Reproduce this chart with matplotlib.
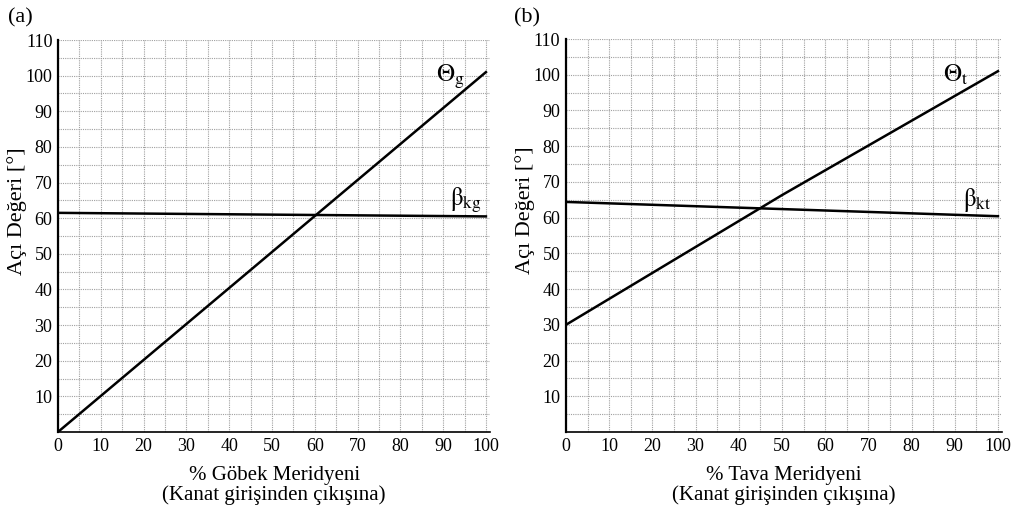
import numpy as np
from matplotlib import pyplot as plt

# percent along meridian (inlet -> outlet)
x_pts = [0, 100]
x_theta_t = [0, 50, 100]

theta_g = [0, 101]
beta_kg = [61.5, 60.5]

theta_t = [30, 66.3, 101]
beta_kt = [64.4, 60.4]

x_ticks = [0, 10, 20, 30, 40, 50, 60, 70, 80, 90, 100]
y_ticks = [10, 20, 30, 40, 50, 60, 70, 80, 90, 100, 110]

plt.rcParams['font.family'] = 'serif'
plt.rcParams['font.serif'] = ['Liberation Serif', 'DejaVu Serif']
plt.rcParams['mathtext.fontset'] = 'stix'

fig = plt.figure(figsize=(10.17, 5.07), dpi=100)
ax_a = fig.add_axes([0.057, 0.148, 0.425, 0.773])
ax_b = fig.add_axes([0.5565, 0.148, 0.429, 0.775])


def style_axes(ax, xlabel):
    ax.set_xlim(0, 101)
    ax.set_ylim(0, 110)
    ax.set_xticks(x_ticks)
    ax.set_yticks(y_ticks)
    ax.set_xticks(np.arange(5, 101, 10), minor=True)
    ax.set_yticks(np.arange(5, 110, 10), minor=True)
    ax.tick_params(which='both', length=0, labelsize=13, pad=4)
    ax.grid(which='both', color='#a0a0a0', linestyle=(0, (1, 1)), linewidth=0.8)
    ax.spines['top'].set_visible(False)
    ax.spines['right'].set_visible(False)
    ax.spines['left'].set_linewidth(1.6)
    ax.spines['bottom'].set_linewidth(1.2)
    ax.set_ylabel('Açı Değeri [°]', fontsize=16)
    ax.yaxis.set_label_coords(-0.072, 0.564)
    ax.set_xlabel(xlabel, fontsize=15, linespacing=1.05, labelpad=8)


ax_a.plot(x_pts, theta_g, color='black', linewidth=1.8)
ax_a.plot(x_pts, beta_kg, color='black', linewidth=1.8)
style_axes(ax_a, '% Göbek Meridyeni\n(Kanat girişinden çıkışına)')
ax_a.text(88.3, 99.7, r'$\Theta_{\mathrm{g}}$', fontsize=18, va='center')
ax_a.text(91.5, 65, r'$\mathrm{\beta}_{\mathrm{kg}}$', fontsize=18, va='center')

ax_b.plot(x_theta_t, theta_t, color='black', linewidth=1.8)
ax_b.plot(x_pts, beta_kt, color='black', linewidth=1.8)
style_axes(ax_b, '% Tava Meridyeni\n(Kanat girişinden çıkışına)')
ax_b.text(87.3, 100, r'$\Theta_{\mathrm{t}}$', fontsize=18, va='center')
ax_b.text(92, 65, r'$\mathrm{\beta}_{\mathrm{kt}}$', fontsize=18, va='center')

fig.text(0.008, 0.965, '(a)', fontsize=16, va='center')
fig.text(0.505, 0.965, '(b)', fontsize=16, va='center')

plt.savefig('out.png', dpi=100)
